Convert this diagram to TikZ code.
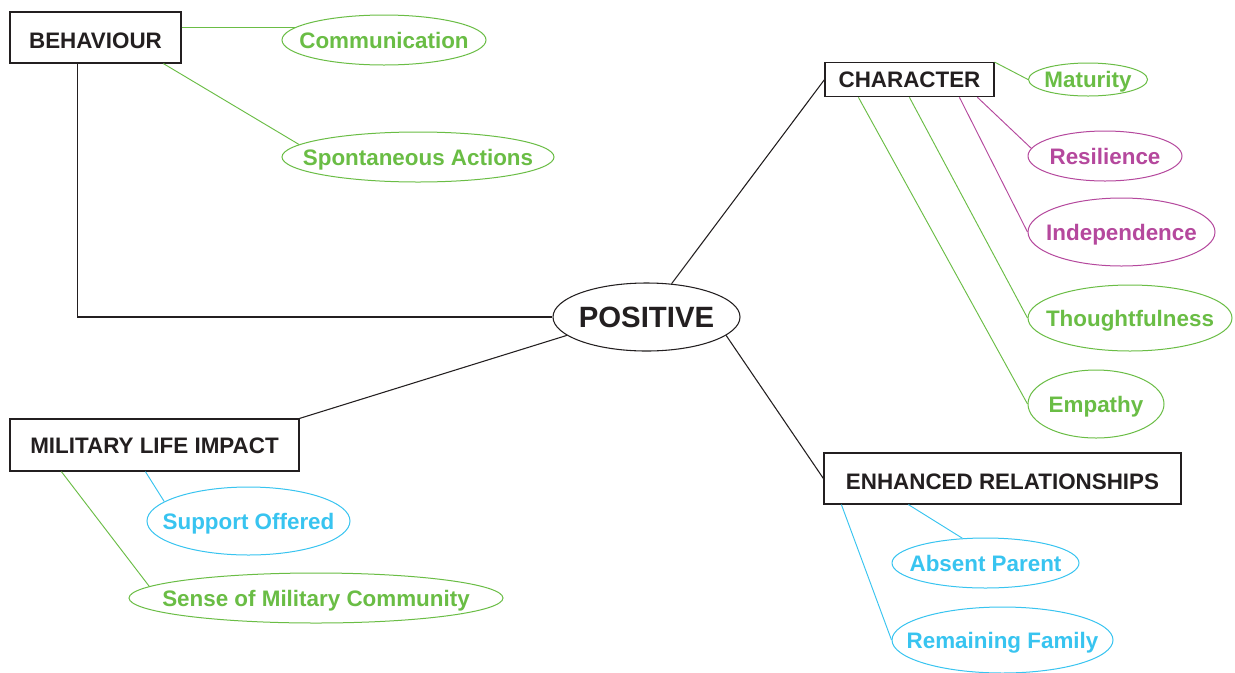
\documentclass[tikz,border=0pt]{standalone}
\usepackage{fontspec}
\setmainfont{Liberation Sans}
\usetikzlibrary{shapes.geometric,calc}
\definecolor{tgreen}{RGB}{106,189,69}
\definecolor{tpurple}{RGB}{181,72,157}
\definecolor{tcyan}{RGB}{56,196,240}
\definecolor{tblack}{RGB}{35,31,32}
\begin{document}
\begin{tikzpicture}[x=0.75pt,y=-0.75pt,
  lbl/.style={font=\fontsize{16.8}{20}\selectfont\bfseries, text height=12pt, text depth=0pt, inner sep=0pt},
  box/.style 2 args={lbl, draw=tblack, line width=0.9pt, text=tblack, rectangle, minimum width=#1*0.75pt, minimum height=#2*0.75pt},
  ell/.style n args={3}{lbl, draw=#3, text=#3, line width=0.75pt, ellipse, minimum width=#1*0.75pt, minimum height=#2*0.75pt},
  kline/.style={draw=tblack, line width=0.8pt},
  gline/.style={draw=tgreen, line width=0.7pt},
  pline/.style={draw=tpurple, line width=0.7pt},
  cline/.style={draw=tcyan, line width=0.7pt}]
\fill[white] (0,0) rectangle (1235,672);
\useasboundingbox (0,0) rectangle (1235,672);

% main boxes
\node[box={171}{51}, text height=16pt] (beh) at (95.5,37.5) {BEHAVIOUR};
\node[box={169}{34}] (char) at (909.5,79.7) {CHARACTER};
\node[box={289}{52}] (mil) at (154.5,445) {MILITARY LIFE IMPACT};
\node[box={357}{51}, text height=16pt] (enh) at (1002.5,478.5) {ENHANCED RELATIONSHIPS};
\node[ell={187}{68}{tblack}, font=\fontsize{22}{26}\selectfont\bfseries, text height=15.8pt, line width=0.8pt] (pos) at (646.5,317) {\makebox[0pt]{POSITIVE}};

% leaves
\node[ell={204}{50}{tgreen}] (comm) at (384,40) {\makebox[0pt]{Communication}};
\node[ell={272}{50}{tgreen}] (spont) at (418,157) {\makebox[0pt]{Spontaneous Actions}};
\node[ell={119}{33}{tgreen}] (mat) at (1088,79.5) {\makebox[0pt]{Maturity}};
\node[ell={154}{50}{tpurple}] (res) at (1105,156) {\makebox[0pt]{Resilience}};
\node[ell={187}{68}{tpurple}] (ind) at (1121.5,232) {\makebox[0pt]{Independence}};
\node[ell={204}{66}{tgreen}] (tho) at (1130,318) {\makebox[0pt]{Thoughtfulness}};
\node[ell={136}{68}{tgreen}] (emp) at (1096,404) {\makebox[0pt]{Empathy}};
\node[ell={203}{68}{tcyan}] (sup) at (248.5,521) {\makebox[0pt]{Support Offered}};
\node[ell={374}{50}{tgreen}] (sense) at (316,598) {\makebox[0pt]{Sense of Military Community}};
\node[ell={187}{50}{tcyan}] (abs) at (985.5,563) {\makebox[0pt]{Absent Parent}};
\node[ell={221}{66}{tcyan}] (rem) at (1002.5,640) {\makebox[0pt]{Remaining Family}};

% connectors
\draw[kline] ($(beh.south west)+(68,0)$) |- (pos.west);
\draw[kline] (pos.53) -- (char.west);
\draw[kline] (pos.193) -- (mil.north east);
\draw[kline] (pos.-13) -- (enh.west);

\draw[gline] (beh.east |- comm.172) -- (comm.172);
\draw[gline] ($(beh.south west)+(154,0)$) -- (spont.174);

\draw[gline] (char.north east) -- (mat.west);
\draw[pline] ($(char.south west)+(153,0)$) -- (res.174);
\draw[pline] ($(char.south west)+(135,0)$) -- (ind.west);
\draw[gline] ($(char.south west)+(85,0)$) -- (tho.west);
\draw[gline] ($(char.south west)+(34,0)$) -- (emp.west);

\draw[cline] ($(mil.south west)+(136,0)$) -- (sup.167);
\draw[gline] ($(mil.south west)+(52,0)$) -- (sense.176);

\draw[cline] ($(enh.south west)+(85,0)$) -- (abs.133);
\draw[cline] ($(enh.south west)+(18,0)$) -- (rem.west);
\end{tikzpicture}
\end{document}
